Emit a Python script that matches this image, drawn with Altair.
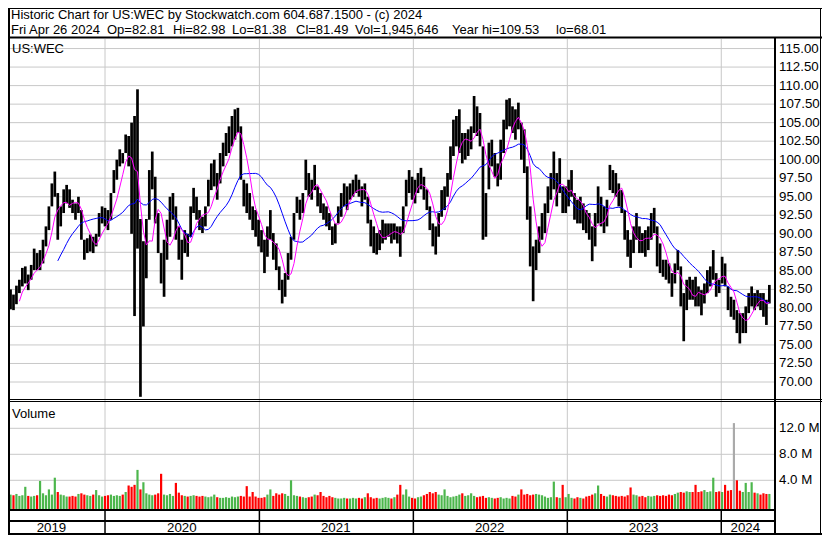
import altair as alt
import pandas as pd

# ---------------- data (weekly bars) ----------------
WEEK_START = "2019-05-15"

HI = [79.0, 82.5, 81.8, 83.0, 83.8, 85.4, 85.6, 84.5, 85.8, 88.0,
      87.4, 87.8, 89.2, 91.0, 93.7, 96.8, 98.4, 95.5, 93.7, 96.0,
      96.6, 96.0, 94.6, 94.1, 95.0, 93.2, 89.2, 89.4, 89.9, 89.6,
      90.0, 92.8, 93.7, 93.5, 93.2, 95.5, 98.6, 100.0, 101.4, 100.9,
      103.4, 103.2, 105.0, 105.9, 109.5, 92.0, 89.0, 92.0, 98.6, 101.1,
      97.7, 92.8, 87.4, 89.2, 91.9, 95.0, 95.5, 93.7, 91.0, 89.2,
      90.5, 90.0, 93.7, 96.2, 95.0, 93.2, 92.3, 93.7, 97.3, 99.5,
      100.0, 98.2, 100.9, 102.3, 103.6, 104.5, 105.9, 106.8, 107.0, 104.5,
      97.3, 96.8, 95.5, 93.7, 93.2, 91.9, 90.5, 89.2, 91.0, 93.2,
      90.1, 88.7, 85.6, 83.8, 84.7, 87.4, 89.6, 92.8, 95.0, 94.6,
      95.5, 100.0, 98.2, 97.3, 99.3, 96.4, 95.5, 94.1, 93.7, 92.8,
      91.0, 91.4, 93.7, 95.5, 96.8, 96.4, 96.8, 97.3, 98.0, 97.3,
      96.4, 96.8, 95.0, 91.9, 91.0, 90.1, 90.5, 91.9, 91.4, 91.4,
      91.4, 91.4, 91.0, 91.0, 93.7, 97.3, 98.6, 97.7, 97.3, 98.2,
      98.9, 97.7, 96.0, 93.7, 91.4, 91.0, 92.8, 95.9, 96.4, 98.2,
      101.8, 105.4, 105.9, 106.8, 103.6, 103.6, 104.1, 104.5, 108.6, 107.2,
      106.3, 101.8, 95.5, 102.3, 102.7, 100.9, 99.5, 102.7, 105.4, 108.1,
      108.3, 107.2, 106.8, 107.7, 105.0, 104.1, 99.1, 93.7, 88.3, 89.2,
      91.0, 92.8, 94.1, 96.4, 98.2, 101.1, 98.2, 100.2, 96.4, 96.4,
      97.3, 98.6, 95.5, 94.6, 95.0, 94.1, 93.2, 92.8, 91.0, 92.8,
      96.4, 95.0, 93.7, 94.6, 99.3, 98.6, 98.2, 96.8, 95.9, 93.2,
      90.5, 89.2, 91.0, 92.8, 91.0, 90.1, 90.5, 91.0, 92.8, 93.5,
      91.0, 88.7, 86.5, 86.5, 86.0, 84.7, 86.0, 87.8, 85.6, 82.0,
      83.8, 84.2, 83.8, 84.2, 82.9, 82.4, 83.3, 85.1, 85.6, 87.8,
      84.7, 83.8, 86.9, 86.0, 82.9, 81.5, 81.1, 79.7, 79.3, 79.3,
      80.2, 82.0, 82.9, 82.0, 82.4, 82.0, 82.0, 81.1, 83.1]

LO = [76.8, 79.8, 79.7, 80.5, 82.0, 82.9, 83.3, 82.4, 83.8, 85.1,
      85.1, 85.1, 86.0, 88.3, 90.5, 93.7, 95.0, 89.2, 91.0, 92.8,
      94.1, 93.5, 92.8, 91.9, 92.8, 89.2, 86.5, 87.4, 87.6, 87.4,
      88.3, 89.6, 91.4, 91.0, 90.5, 91.9, 95.5, 97.3, 99.1, 99.5,
      100.9, 99.1, 90.0, 78.9, 88.0, 68.0, 77.5, 84.0, 91.9, 96.0,
      91.4, 87.4, 83.3, 81.5, 86.5, 89.6, 91.9, 89.2, 86.5, 83.8,
      87.4, 86.9, 89.6, 92.8, 91.9, 90.5, 90.1, 91.0, 93.7, 95.9,
      96.4, 94.6, 96.8, 99.1, 100.5, 100.9, 101.8, 102.7, 103.6, 97.3,
      93.7, 92.8, 91.9, 90.5, 89.6, 88.3, 87.5, 84.7, 86.9, 89.2,
      86.5, 85.1, 82.4, 80.6, 81.5, 83.8, 86.5, 89.2, 92.8, 91.9,
      92.8, 95.9, 95.0, 94.6, 95.9, 93.7, 92.8, 91.9, 91.0, 90.5,
      88.5, 88.7, 91.4, 92.3, 93.7, 93.2, 94.6, 95.0, 95.5, 95.0,
      93.7, 94.6, 91.4, 88.3, 87.4, 87.2, 87.8, 88.7, 89.2, 89.6,
      88.7, 89.2, 88.7, 86.9, 90.1, 93.7, 95.5, 94.6, 94.1, 95.5,
      96.0, 94.6, 93.2, 90.5, 88.3, 87.2, 89.6, 92.3, 93.2, 95.0,
      97.3, 100.5, 101.8, 100.9, 99.5, 100.0, 100.5, 101.4, 103.6, 103.2,
      101.8, 89.2, 89.6, 96.0, 99.1, 97.7, 96.4, 97.3, 100.9, 104.1,
      104.5, 103.6, 102.7, 104.1, 100.0, 98.2, 91.9, 85.6, 80.9, 85.1,
      87.4, 89.2, 90.1, 92.8, 94.6, 96.0, 93.7, 95.5, 92.8, 92.8,
      93.7, 95.0, 91.9, 91.4, 91.4, 90.5, 90.1, 89.2, 86.3, 88.3,
      91.4, 91.0, 90.1, 91.0, 95.9, 95.5, 95.0, 93.7, 92.8, 89.2,
      86.9, 85.4, 87.4, 89.2, 87.4, 87.4, 86.9, 87.8, 89.2, 90.1,
      85.6, 84.7, 84.2, 83.8, 83.3, 81.5, 83.3, 85.1, 80.2, 75.5,
      79.7, 81.1, 81.1, 80.2, 80.2, 79.0, 80.6, 82.0, 82.9, 83.8,
      81.5, 82.0, 83.3, 82.9, 79.7, 78.8, 78.4, 76.6, 75.2, 76.6,
      76.6, 79.3, 80.2, 79.7, 80.2, 79.7, 78.8, 77.7, 80.6]

VOL_M = [1.6, 1.8, 1.7, 1.9, 1.6, 1.7, 3.0, 1.6, 1.5, 1.6,
         1.7, 3.9, 2.0, 1.7, 2.6, 1.8, 4.4, 2.2, 1.8, 1.7,
         1.5, 1.5, 1.6, 1.5, 1.9, 2.0, 1.8, 1.7, 1.6, 1.8,
         2.5, 1.7, 1.5, 1.6, 1.7, 1.8, 1.6, 1.7, 1.6, 1.8,
         2.2, 3.2, 3.0, 3.3, 5.6, 2.6, 3.7, 2.0, 1.8, 1.7,
         1.8, 2.0, 5.0, 1.8, 1.7, 1.9, 1.6, 3.6, 2.1, 1.7,
         1.6, 1.5, 1.6, 1.7, 1.6, 1.5, 1.6, 1.5, 1.4, 1.5,
         1.8, 1.4, 1.3, 1.3, 1.4, 1.3, 1.5, 1.4, 1.5, 1.6,
         1.5, 3.1, 1.5, 2.2, 1.5, 1.3, 1.3, 1.4, 1.8, 2.6,
         1.6, 2.0, 1.8, 2.0, 1.9, 1.6, 4.0, 1.7, 1.6, 1.5,
         1.4, 1.3, 1.4, 1.5, 1.8, 1.7, 2.2, 1.6, 1.4, 1.6,
         1.4, 1.3, 1.2, 1.2, 1.3, 1.2, 1.2, 1.3, 1.2, 1.3,
         1.2, 1.4, 2.0, 1.4, 1.2, 1.3, 1.2, 1.3, 1.4, 1.3,
         1.2, 1.4, 1.8, 3.3, 1.8, 2.6, 1.5, 1.3, 1.2, 1.4,
         1.5, 1.7, 1.9, 2.2, 2.0, 2.2, 1.8, 1.7, 2.6, 1.6,
         1.4, 1.5, 1.6, 1.8, 2.0, 1.6, 1.7, 2.0, 1.6, 1.4,
         1.5, 1.6, 1.3, 1.4, 1.3, 1.2, 1.3, 1.4, 1.2, 1.3,
         1.2, 1.6, 1.5, 1.8, 2.6, 1.8, 1.9, 1.7, 1.8, 1.9,
         1.8, 1.7, 1.5, 1.3, 1.4, 3.8, 1.4, 1.3, 3.3, 1.4,
         1.9, 1.3, 1.2, 1.4, 1.3, 1.2, 1.5, 1.6, 1.8, 2.0,
         3.2, 1.9, 1.6, 1.5, 1.8, 1.7, 1.6, 1.5, 1.6, 1.5,
         1.7, 2.9, 1.8, 1.7, 1.5, 1.6, 1.4, 1.6, 1.5, 1.6,
         1.7, 1.6, 1.7, 1.6, 1.8, 1.7, 1.9, 2.1, 2.2, 2.1,
         2.3, 2.2, 2.2, 3.3, 2.2, 2.3, 2.5, 2.2, 2.3, 4.4,
         2.2, 2.3, 2.2, 3.3, 2.4, 2.5, 12.8, 4.0, 2.4, 2.2,
         3.6, 2.2, 3.7, 2.1, 2.0, 1.8, 2.0, 1.9, 1.9]

assert len(HI) == len(LO) == len(VOL_M)

# weeks whose volume bar is drawn grey (unchanged close) in the reference
GREY_VOL_WEEKS = ["2024-01-31"]

PRICE_TICKS = [70.0, 72.5, 75.0, 77.5, 80.0, 82.5, 85.0, 87.5, 90.0, 92.5,
               95.0, 97.5, 100.0, 102.5, 105.0, 107.5, 110.0, 112.5, 115.0]
VOL_TICKS = [4.0, 8.0, 12.0]
YEAR_BOUNDS = ["2020-01-01", "2021-01-01", "2022-01-01", "2023-01-01", "2024-01-01"]
YEAR_LABELS = ["2019", "2020", "2021", "2022", "2023", "2024"]
YEAR_LABEL_AT = ["2019-08-27", "2020-07-01", "2021-07-01", "2022-07-01", "2023-07-01", "2024-02-27"]

HEADER_1 = "Historic Chart for US:WEC by Stockwatch.com 604.687.1500 - (c) 2024"
HEADER_2_FIELDS = ["Fri Apr 26 2024", "Op=82.81", "Hi=82.98", "Lo=81.38",
                   "Cl=81.49", "Vol=1,945,646", "Year hi=109.53", "lo=68.01"]

# ---------------- layout ----------------
TOTAL_W, TOTAL_H = 814, 527
PLOT_R = 766            # right edge of the price / volume plotting area
PANEL_TOP = 31
FONT = "Liberation Sans"
GRID = "#c8c8c8"
HEADER_2_X = [3, 99, 165, 224, 288, 347, 444, 548]

dates = pd.date_range(WEEK_START, periods=len(HI), freq="7D").strftime("%Y-%m-%d")
df = pd.DataFrame({"date": dates, "hi": HI, "lo": LO, "vol": VOL_M})
df["grey"] = df["date"].isin(GREY_VOL_WEEKS)

x_scale = alt.Scale(domain=[alt.DateTime(year=2019, month=5, date=16, utc=True),
                            alt.DateTime(year=2024, month=5, date=5, utc=True)],
                    range=[0, PLOT_R])
p_scale = alt.Scale(domain=[67.841, 116.289], range=[390, PANEL_TOP], nice=False, zero=False)
v_scale = alt.Scale(domain=[-0.415, 16.046], range=[501, 394], nice=False, zero=False)

X = alt.X("date:T", scale=x_scale, axis=None)
dummy = pd.DataFrame({"k": [0]})


def hline(y, x0, x1, w=1.0, color="black"):
    return alt.Chart(dummy).mark_rule(color=color, strokeWidth=w).encode(
        x=alt.value(x0), x2=alt.value(x1), y=alt.value(y))


def vline(x, y0, y1, w=1.0, color="black"):
    return alt.Chart(dummy).mark_rule(color=color, strokeWidth=w).encode(
        x=alt.value(x), y=alt.value(y0), y2=alt.value(y1))


def label(text, x, y, size=13, align="left"):
    return alt.Chart(dummy).mark_text(text=text, font=FONT, fontSize=size, align=align,
                                      baseline="alphabetic", color="black").encode(
        x=alt.value(x), y=alt.value(y))


base = alt.Chart(df).transform_calculate(mid="(datum.hi + datum.lo) / 2")

price_grid = alt.Chart(pd.DataFrame({"p": PRICE_TICKS})).mark_rule(color=GRID, strokeWidth=1).encode(
    y=alt.Y("p:Q", scale=p_scale, axis=None), x=alt.value(0), x2=alt.value(PLOT_R))
vol_grid = alt.Chart(pd.DataFrame({"v": VOL_TICKS})).mark_rule(color=GRID, strokeWidth=1).encode(
    y=alt.Y("v:Q", scale=v_scale, axis=None), x=alt.value(0), x2=alt.value(PLOT_R))
year_df = pd.DataFrame({"d": YEAR_BOUNDS})
year_grid = alt.Chart(year_df).mark_rule(color=GRID, strokeWidth=1).encode(
    x=alt.X("d:T", scale=x_scale, axis=None), y=alt.value(PANEL_TOP), y2=alt.value(501))
year_sep = alt.Chart(year_df).mark_rule(color="black", strokeWidth=1.5).encode(
    x=alt.X("d:T", scale=x_scale, axis=None), y=alt.value(502), y2=alt.value(527))

price_bars = base.mark_rule(color="black", strokeWidth=2.7).encode(
    x=X, y=alt.Y("lo:Q", scale=p_scale, axis=None), y2="hi:Q")

ma_fast = base.transform_window(
    window=[{"op": "mean", "field": "mid", "as": "ma"}, {"op": "count", "field": "mid", "as": "n"}],
    frame=[-4, 0], sort=[{"field": "date"}]
).transform_filter("datum.n >= 5").mark_line(color="#ff00ff", strokeWidth=1).encode(
    x=X, y=alt.Y("ma:Q", scale=p_scale, axis=None))

ma_slow = base.transform_window(
    window=[{"op": "mean", "field": "mid", "as": "ma"}, {"op": "count", "field": "mid", "as": "n"}],
    frame=[-17, 0], sort=[{"field": "date"}]
).transform_filter("datum.n >= 18").mark_line(color="#0000ff", strokeWidth=1).encode(
    x=X, y=alt.Y("ma:Q", scale=p_scale, axis=None))

vol_bars = base.transform_window(
    window=[{"op": "lag", "field": "mid", "as": "prev"}], sort=[{"field": "date"}]
).transform_calculate(
    dir="datum.grey ? 'flat' : (datum.prev == null || datum.mid >= datum.prev ? 'up' : 'down')"
).mark_rule(strokeWidth=2.2).encode(
    x=X, y=alt.Y("vol:Q", scale=v_scale, axis=None), y2=alt.value(501),
    color=alt.Color("dir:N", scale=alt.Scale(domain=["up", "down", "flat"],
                                             range=["#4cb64c", "#ff0000", "#aaaaaa"]),
                    legend=None))

price_labels = alt.Chart(pd.DataFrame({"p": PRICE_TICKS})).mark_text(
    font=FONT, fontSize=13.3, align="left", baseline="middle", color="black").encode(
    y=alt.Y("p:Q", scale=p_scale, axis=None), x=alt.value(771),
    text=alt.Text("p:Q", format=".2f"))
vol_labels = alt.Chart(pd.DataFrame({"v": VOL_TICKS[::-1]})).transform_calculate(
    lbl="format(datum.v, '.1f') + ' M'").mark_text(
    font=FONT, fontSize=13.3, align="left", baseline="middle", color="black").encode(
    y=alt.Y("v:Q", scale=v_scale, axis=None), x=alt.value(771), text="lbl:N")

year_labels = alt.Chart(pd.DataFrame({"d": YEAR_LABEL_AT, "t": YEAR_LABELS})).mark_text(
    font=FONT, fontSize=13.3, align="center", baseline="alphabetic", color="black").encode(
    x=alt.X("d:T", scale=x_scale, axis=None), y=alt.value(524), text="t:N")

frame = [
    hline(0.5, 0, TOTAL_W, 1),                 # top border
    hline(29.5, 0, TOTAL_W, 2),                # header separator
    hline(391.5, 0, TOTAL_W, 1),               # price / volume double line
    hline(393.5, 0, TOTAL_W, 1),
    hline(502, 0, PLOT_R + 2, 2),              # volume bottom
    hline(513, 0, PLOT_R + 2, 2),              # band bottom
    hline(526, 0, TOTAL_W, 2),                 # bottom border
    vline(1, 0, TOTAL_H, 2),                   # left border
    vline(767, 29, TOTAL_H, 2),                # right axis line
    vline(812.5, 0, TOTAL_H, 1),               # right border
]

texts = [label(HEADER_1, 3, 11)]
texts += [label(t, x, 25.5) for t, x in zip(HEADER_2_FIELDS, HEADER_2_X)]
texts += [label("US:WEC", 4, 45), label("Volume", 4, 410)]

chart = alt.layer(
    price_grid, vol_grid, year_grid, year_sep,
    vol_bars, price_bars, ma_slow, ma_fast,
    price_labels, vol_labels, year_labels,
    *frame, *texts,
).resolve_scale(y="independent", color="independent").properties(
    width=TOTAL_W, height=TOTAL_H,
    autosize=alt.AutoSizeParams(type="none"),
    padding={"left": 0, "right": 0, "top": 0, "bottom": 0},
).configure_view(strokeWidth=0).configure(background="white")

chart.save("out.html", embed_options={"renderer": "svg", "actions": False})
